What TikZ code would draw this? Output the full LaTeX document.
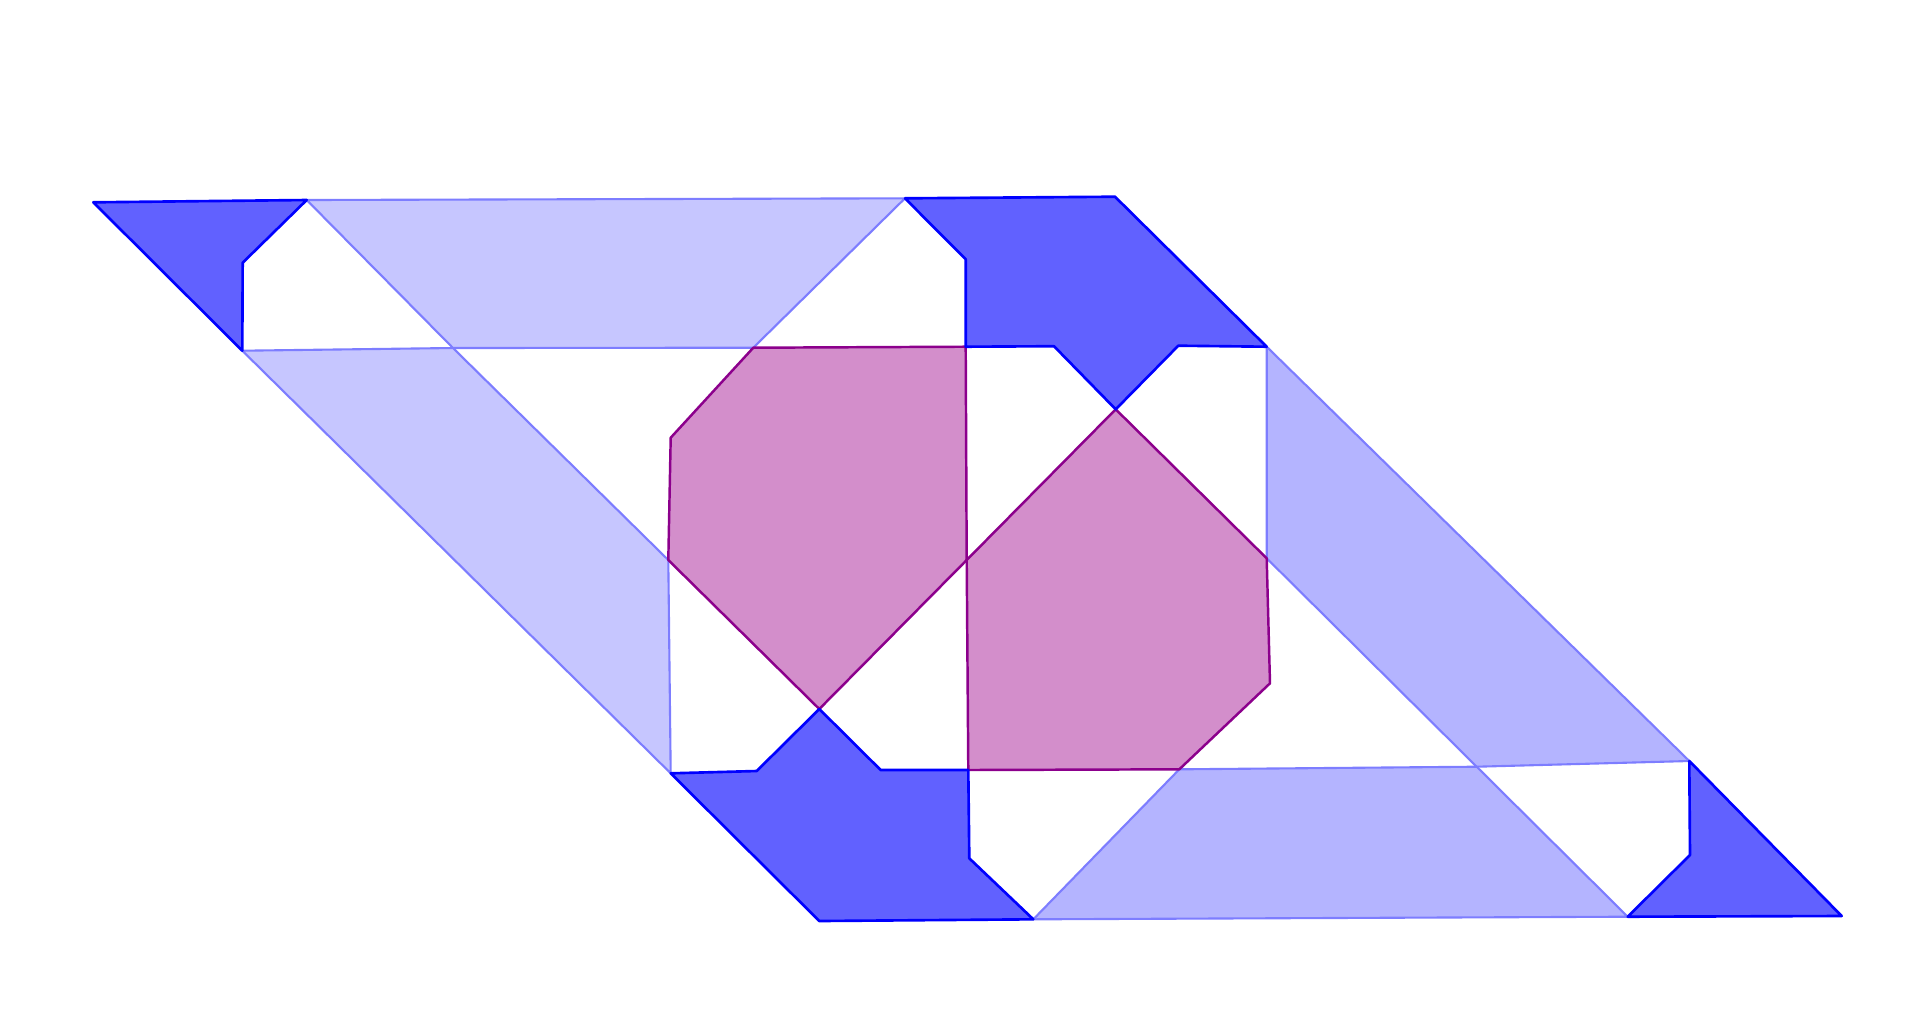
\documentclass[tikz,border=0pt]{standalone}
\usepackage{tikz}
\definecolor{darkfill}{RGB}{97,97,255}
\definecolor{darkline}{RGB}{0,0,255}
\definecolor{lightfillA}{RGB}{198,198,255}
\definecolor{lightfillB}{RGB}{180,180,255}
\definecolor{lightline}{RGB}{125,125,255}
\definecolor{magfill}{RGB}{211,142,203}
\definecolor{magline}{RGB}{140,0,140}
\tikzset{
  darkpiece/.style={fill=darkfill, draw=darkline, line width=0.75pt, line join=round},
  bandA/.style={fill=lightfillA, draw=lightline, line width=0.6pt, line join=round},
  bandB/.style={fill=lightfillB, draw=lightline, line width=0.6pt, line join=round},
  magpiece/.style={fill=magfill, draw=magline, line width=0.7pt, line join=round}
}
\begin{document}
\begin{tikzpicture}[x=0.01cm,y=-0.01cm]
\useasboundingbox (0,0) rectangle (1920,1026);
% points
\coordinate (A) at (93.3,202.3);
\coordinate (B) at (306.7,200);
\coordinate (P1) at (242.7,262.7);
\coordinate (L) at (242.3,350.7);
\coordinate (C) at (905,198.3);
\coordinate (D) at (1115,196.7);
\coordinate (E) at (1266.7,346.7);
\coordinate (U1) at (965.7,259.3);
\coordinate (M1) at (965.7,346.7);
\coordinate (U2) at (1054,346.2);
\coordinate (U3) at (1178.3,345.7);
\coordinate (X) at (1115.7,409.3);
\coordinate (T1) at (753.3,347.7);
\coordinate (Q) at (453,348);
\coordinate (N1) at (670.7,437.7);
\coordinate (M2) at (668.3,560);
\coordinate (Z) at (966.7,560);
\coordinate (Y) at (819.3,709);
\coordinate (K) at (670.7,773.3);
\coordinate (W1) at (756.7,771);
\coordinate (W2) at (880.7,770);
\coordinate (S2) at (968.3,770);
\coordinate (W3) at (969.3,858.3);
\coordinate (I) at (1033.3,919.3);
\coordinate (J) at (819.3,921);
\coordinate (R1) at (1266.7,558.3);
\coordinate (R2) at (1270,683.3);
\coordinate (S1) at (1179.3,769.3);
\coordinate (F) at (1689.3,761);
\coordinate (V) at (1476.7,766.7);
\coordinate (W4) at (1690,855);
\coordinate (H) at (1627.7,916.7);
\coordinate (G) at (1841.7,916);
% light bands
\path[bandA] (B) -- (C) -- (T1) -- (Q) -- cycle;
\path[bandA] (L) -- (Q) -- (M2) -- (K) -- cycle;
\path[bandB] (E) -- (F) -- (V) -- (R1) -- cycle;
\path[bandB] (S1) -- (V) -- (H) -- (I) -- cycle;
% magenta hexagons
\path[magpiece] (T1) -- (M1) -- (Z) -- (Y) -- (M2) -- (N1) -- cycle;
\path[magpiece] (X) -- (R1) -- (R2) -- (S1) -- (S2) -- (Z) -- cycle;
% dark blue pieces
\path[darkpiece] (A) -- (B) -- (P1) -- (L) -- cycle;
\path[darkpiece] (C) -- (D) -- (E) -- (U3) -- (X) -- (U2) -- (M1) -- (U1) -- cycle;
\path[darkpiece] (K) -- (W1) -- (Y) -- (W2) -- (S2) -- (W3) -- (I) -- (J) -- cycle;
\path[darkpiece] (F) -- (G) -- (H) -- (W4) -- cycle;
\end{tikzpicture}
\end{document}
